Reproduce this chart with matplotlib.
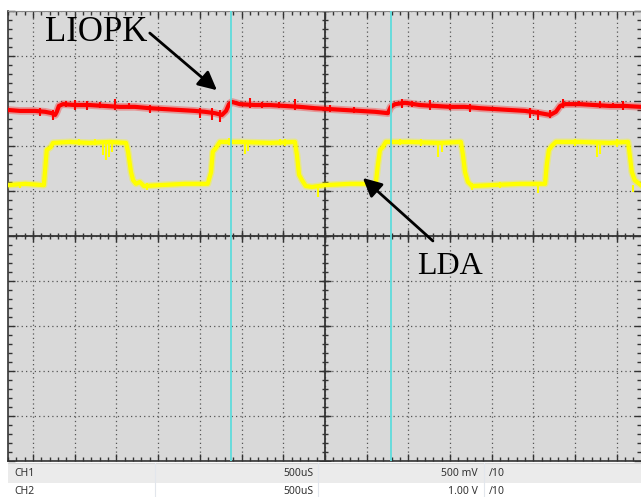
import numpy as np
import matplotlib.pyplot as plt
from matplotlib.patches import Rectangle
from matplotlib.lines import Line2D
from matplotlib.ticker import MultipleLocator

# screen units: divisions from centre (x: 500uS/div, y: per channel)
red_t = [-7.60, -7.31, -6.95, -6.71, -6.55, -6.47, -6.43, -6.38, -6.28, -6.00,
         -5.64, -5.28, -4.92, -4.56, -4.20, -3.84, -3.48, -3.12, -2.88, -2.64,
         -2.47, -2.37, -2.30, -2.23, -2.04, -1.68, -1.32, -0.96, -0.60, -0.24,
         0.12, 0.48, 0.84, 1.20, 1.51, 1.58, 1.68, 1.92, 2.28, 2.64,
         3.00, 3.36, 3.72, 4.08, 4.44, 4.80, 5.16, 5.40, 5.54, 5.64,
         5.76, 6.12, 6.47, 6.83, 7.19, 7.58]
red_v = [2.80, 2.78, 2.78, 2.76, 2.73, 2.69, 2.76, 2.89, 2.93, 2.91,
         2.91, 2.89, 2.87, 2.87, 2.84, 2.82, 2.80, 2.78, 2.76, 2.73,
         2.69, 2.78, 2.93, 2.98, 2.93, 2.91, 2.91, 2.89, 2.87, 2.84,
         2.82, 2.80, 2.78, 2.76, 2.73, 2.87, 2.93, 2.96, 2.91, 2.89,
         2.87, 2.87, 2.84, 2.82, 2.80, 2.78, 2.73, 2.69, 2.76, 2.89,
         2.93, 2.93, 2.91, 2.89, 2.89, 2.87]

red_spike_t = [-6.83, -6.52, -6.00, -5.71, -5.04, -4.20, -3.00, -2.71, -2.52, -1.80,
               -0.72, 0.12, 1.85, 2.52, 3.48, 4.92, 5.11, 5.40, 5.71, 6.59, 7.15,
               -6.20, -5.40, -4.70, -1.50, -1.10, 0.70, 2.10, 3.00, 6.10, 6.90]
red_spike_hi = [2.84, 2.80, 3.02, 3.00, 3.04, 2.91, 2.84, 2.84, 2.80, 3.07,
                3.04, 2.91, 3.04, 3.02, 2.93, 2.84, 2.80, 2.80, 3.04, 3.00, 3.00,
                3.00, 2.98, 2.96, 2.98, 2.98, 2.86, 3.00, 2.94, 3.00, 2.96]
red_spike_lo = [2.67, 2.58, 2.80, 2.80, 2.80, 2.73, 2.62, 2.58, 2.53, 2.84,
                2.80, 2.76, 2.84, 2.80, 2.76, 2.62, 2.58, 2.62, 2.84, 2.84, 2.80,
                2.86, 2.84, 2.82, 2.84, 2.84, 2.74, 2.86, 2.80, 2.88, 2.84]

yel_t = [-7.60, -7.19, -6.74, -6.69, -6.67, -6.57, -6.52, -6.12, -5.64, -5.16,
         -4.77, -4.72, -4.65, -4.60, -4.53, -4.44, -4.34, -3.96, -3.36, -2.81,
         -2.73, -2.69, -2.61, -2.52, -2.04, -1.32, -0.72, -0.67, -0.62, -0.55,
         -0.46, -0.31, 0.00, 0.60, 1.22, 1.27, 1.32, 1.39, 1.46, 2.04,
         2.76, 3.26, 3.31, 3.36, 3.43, 3.53, 3.96, 4.68, 5.28, 5.32,
         5.37, 5.44, 5.54, 6.12, 6.83, 7.27, 7.31, 7.36, 7.43, 7.51, 7.58]
yel_v = [1.13, 1.16, 1.13, 1.69, 1.91, 1.98, 2.07, 2.09, 2.07, 2.09,
         2.07, 1.87, 1.42, 1.24, 1.16, 1.20, 1.11, 1.13, 1.16, 1.16,
         1.42, 1.87, 1.96, 2.09, 2.09, 2.07, 2.09, 1.80, 1.36, 1.24,
         1.11, 1.09, 1.13, 1.16, 1.16, 1.58, 1.91, 1.98, 2.09, 2.09,
         2.07, 2.09, 1.80, 1.42, 1.20, 1.11, 1.13, 1.16, 1.16, 1.58,
         1.91, 2.00, 2.09, 2.09, 2.07, 2.09, 1.80, 1.42, 1.24, 1.18, 1.13]

yel_spike_t = [-5.32, -5.25, -5.18, -5.11, -1.92, -1.85, 2.71, 2.81, 6.52, 6.59,
               -5.52, -1.08, -4.27, -0.17, 3.53, 5.11, 7.39, -7.31,
               -5.90, -2.30, -0.95, 1.80, 2.30, 4.20, 6.00, 7.00]
yel_spike_hi = [2.07, 2.07, 2.07, 2.07, 2.07, 2.07, 2.07, 2.07, 2.07, 2.07,
                2.16, 2.16, 1.18, 1.13, 1.18, 1.18, 1.13, 1.18,
                2.16, 2.18, 2.16, 2.16, 2.15, 1.20, 2.16, 2.15]
yel_spike_lo = [1.80, 1.69, 1.76, 1.87, 1.82, 1.89, 1.76, 1.87, 1.76, 1.82,
                2.02, 2.02, 1.02, 0.87, 1.02, 0.96, 0.98, 1.07,
                2.02, 2.02, 2.00, 2.02, 2.00, 1.06, 2.00, 1.98]

cursor_t = [-2.25, 1.58]

channels = ['CH1', 'CH2']
timebase = ['500uS', '500uS']
volts = ['500 mV', '1.00 V']
probe = ['/10', '/10']

W, H = 641, 497
fig = plt.figure(figsize=(W / 100, H / 100), dpi=100, facecolor='white')

def fx(x):
    return x / W

def fy(y):
    return 1 - y / H

ax = fig.add_axes([fx(8), fy(461), fx(633), 450 / H])
ax.set_facecolor('#d9d9d9')
ax.set_xlim(-7.60, 7.58)
ax.set_ylim(-5, 5)

ax.xaxis.set_major_locator(MultipleLocator(1))
ax.yaxis.set_major_locator(MultipleLocator(1))
ax.xaxis.set_minor_locator(MultipleLocator(0.2))
ax.yaxis.set_minor_locator(MultipleLocator(0.2))
ax.tick_params(which='both', direction='in', top=True, right=True,
               labelbottom=False, labelleft=False, color='#333333', width=1)
ax.tick_params(which='major', length=5)
ax.tick_params(which='minor', length=3)
ax.grid(which='major', color='#555555', linestyle=(0, (1, 2.5)), linewidth=0.9)
for s in ['left', 'bottom']:
    ax.spines[s].set_color('#333333')
    ax.spines[s].set_linewidth(1.2)
ax.spines['top'].set_color('#888888')
ax.spines['right'].set_visible(False)

# centre cross with ticks
ax.axhline(0, color='#333333', lw=1.3, zorder=2)
ax.axvline(0, color='#333333', lw=1.3, zorder=2)
mt_x = np.arange(-7.4, 7.6, 0.2)
mt_y = np.arange(-5.0, 5.01, 0.2)
ax.plot(mt_x, np.zeros_like(mt_x), ls='none', marker='|', ms=5, mew=1, color='#333333', zorder=2)
ax.plot(np.zeros_like(mt_y), mt_y, ls='none', marker='_', ms=5, mew=1, color='#333333', zorder=2)
ax.plot(np.arange(-7, 8), np.zeros(15), ls='none', marker='|', ms=9, mew=1, color='#333333', zorder=2)
ax.plot(np.zeros(11), np.arange(-5, 6), ls='none', marker='_', ms=9, mew=1, color='#333333', zorder=2)

# traces (wide faint pass mimics the noise band)
ax.plot(yel_t, yel_v, color='#ffff00', lw=5, alpha=0.35, zorder=3)
ax.plot(yel_t, yel_v, color='#ffff00', lw=3, zorder=3)
ax.vlines(yel_spike_t, yel_spike_lo, yel_spike_hi, color='#ffff00', lw=1.5, zorder=3)
ax.plot(red_t, red_v, color='#ff0000', lw=5.5, alpha=0.3, zorder=4)
ax.plot(red_t, red_v, color='#ff0000', lw=3, zorder=4)
ax.vlines(red_spike_t, red_spike_lo, red_spike_hi, color='#ff0000', lw=1.5, zorder=4)

for c in cursor_t:
    ax.axvline(c, color='#5fdcdc', lw=1.3, zorder=5)

arrow = dict(arrowstyle='-|>', color='black', lw=2, mutation_scale=28, shrinkA=0, shrinkB=0)
ax.annotate('', xy=(-2.59, 3.24), xytext=(-4.20, 4.51), arrowprops=arrow, zorder=6)
ax.annotate('', xy=(0.91, 1.29), xytext=(2.59, -0.11), arrowprops=arrow, zorder=6)
ax.text(-6.71, 4.53, 'LIOPK', family='Liberation Serif', fontsize=25, va='center', ha='left', zorder=6)
ax.text(2.21, -0.68, 'LDA', family='Liberation Serif', fontsize=23, va='center', ha='left', zorder=6)

# status table under the screen
fig.add_artist(Rectangle((fx(8), fy(483)), 1, 20 / H, transform=fig.transFigure,
                         facecolor='#ebebeb', edgecolor='none'))
fig.add_artist(Line2D([fx(8), 1], [fy(463), fy(463)], transform=fig.transFigure,
                      color='#d4d4d4', lw=0.8))
for sx in [155, 318, 484]:
    fig.add_artist(Line2D([fx(sx), fx(sx)], [fy(463), 0], transform=fig.transFigure,
                          color='#e2e6ec', lw=0.8))
row_y = [473, 492]
for i in range(2):
    kw = dict(fontsize=7.5, family='Noto Sans', color='#333333', va='center')
    fig.text(fx(14), fy(row_y[i]), channels[i], ha='left', **kw)
    fig.text(fx(313), fy(row_y[i]), timebase[i], ha='right', **kw)
    fig.text(fx(478), fy(row_y[i]), volts[i], ha='right', **kw)
    fig.text(fx(489), fy(row_y[i]), probe[i], ha='left', **kw)

fig.savefig('out.png', dpi=100, facecolor='white')
